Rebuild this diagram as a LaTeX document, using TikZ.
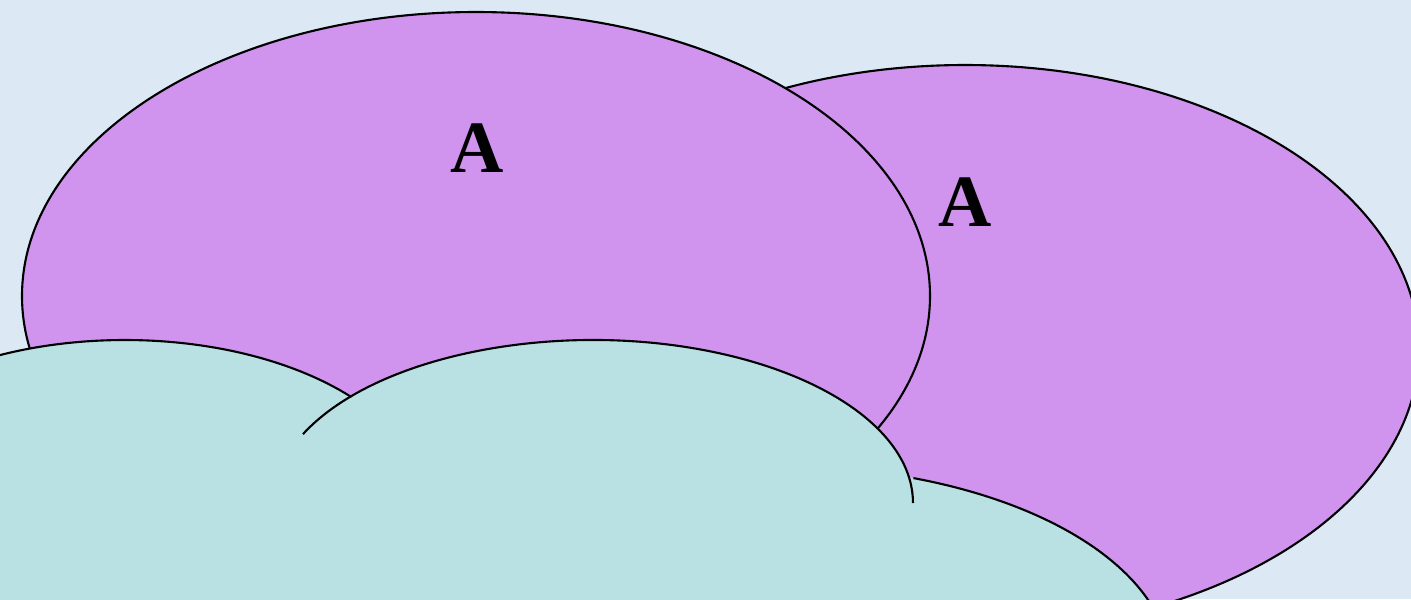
\documentclass[tikz,border=0pt]{standalone}
\usepackage{xcolor}
\usepackage{tikz}
\usepackage{fontspec}
\setmainfont{Liberation Serif}
\definecolor{skyback}{HTML}{DCE9F5}
\definecolor{bubblepurple}{HTML}{D194EE}
\definecolor{cloudteal}{HTML}{B9E0E3}

\begin{document}
\begin{tikzpicture}[x=1cm,y=1cm,
    outline/.style={draw=black,line width=0.6pt},
    letter/.style={font=\fontsize{21}{21}\bfseries\selectfont,inner sep=0pt}]
  \useasboundingbox (0,0) rectangle (14.11,5.99);
  \clip (0,0) rectangle (14.11,5.99);
  \fill[skyback] (0,0) rectangle (14.11,5.99);
  % purple bubbles
  \coordinate (bubR) at (9.65,2.50);
  \coordinate (bubL) at (4.76,3.03);
  \filldraw[fill=bubblepurple,outline] (bubR) ellipse[x radius=4.54,y radius=2.84];
  \filldraw[fill=bubblepurple,outline] (bubL) ellipse[x radius=4.54,y radius=2.84];
  \node[letter] (letterL) at (4.77,4.51) {A};
  \node[letter] (letterR) at (9.65,3.97) {A};
  % cloud lumps
  \coordinate (lumpA) at (1.25,0.93);
  \coordinate (lumpB) at (5.93,0.96);
  \coordinate (lumpC) at (7.80,-0.67);
  \fill[cloudteal] (lumpA) ellipse[x radius=3.00,y radius=1.66];
  \fill[cloudteal] (lumpB) ellipse[x radius=3.20,y radius=1.63];
  \fill[cloudteal] (lumpC) ellipse[x radius=3.90,y radius=2.00];
  \draw[outline] ([shift={(180:3.00 and 1.66)}]lumpA) arc[start angle=180,end angle=41,x radius=3.00,y radius=1.66];
  \draw[outline] ([shift={(155:3.20 and 1.63)}]lumpB) arc[start angle=155,end angle=0,x radius=3.20,y radius=1.63];
  \draw[outline] ([shift={(70:3.90 and 2.00)}]lumpC) arc[start angle=70,end angle=-10,x radius=3.90,y radius=2.00];
\end{tikzpicture}
\end{document}
